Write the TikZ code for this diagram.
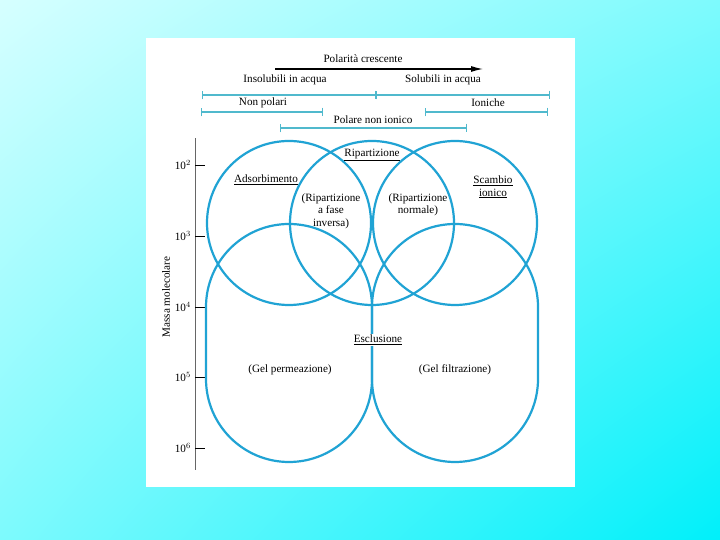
\documentclass[tikz,border=0pt]{standalone}
\usepackage{fontspec}
\setmainfont{Liberation Serif}
\usepackage{xcolor}
\usetikzlibrary{positioning,shadings,arrows.meta}

\definecolor{ringblue}{RGB}{32,163,212}
\definecolor{barteal}{RGB}{80,185,205}
\definecolor{bgpale}{RGB}{214,255,255}
\definecolor{bgmid}{RGB}{125,250,253}
\definecolor{bgdeep}{RGB}{0,240,250}

\tikzset{
	ring/.style={draw=ringblue,line width=2.2bp},
	scalebar/.style={draw=barteal,line width=1.4bp,|-|},
	lbl/.style={font=\fontsize{11.2}{12.5}\selectfont,align=center,inner sep=1pt},
	ticklbl/.style={font=\fontsize{11.2}{12.5}\selectfont,anchor=east,inner sep=1pt},
	axisline/.style={draw=black!60,line width=0.9bp}
}

\begin{document}
\begin{tikzpicture}[x=1bp,y=1bp]
	\useasboundingbox (0,0) rectangle (720,540);
	\shade[upper left=bgpale,upper right=bgmid,lower left=bgmid,lower right=bgdeep] (0,0) rectangle (720,540);
	\fill[white] (146,53) rectangle (575,502);

	% polarity scale
	\node[lbl] (pol) at (363,481) {Polarità crescente};
	\coordinate (pa) at (275,471);
	\coordinate (pb) at (483,471);
	\draw[-{Latex[length=12bp,width=6bp]},line width=1.2bp] (pa) -- (pb);
	\node[lbl] (insol) at (285,460) {Insolubili in acqua};
	\node[lbl] (sol) at (443,460) {Solubili in acqua};
	\coordinate (s1a) at (202,445);
	\coordinate (s1m) at (376,445);
	\coordinate (s1b) at (550,445);
	\draw[scalebar] (s1a) -- (s1m);
	\draw[scalebar] (s1m) -- (s1b);
	\node[lbl] (nonpol) at (263,437) {Non polari};
	\node[lbl] (ion) at (488,437) {Ioniche};
	\coordinate (s2a) at (201,428);
	\coordinate (s2b) at (323,428);
	\coordinate (s3a) at (425,428);
	\coordinate (s3b) at (548,428);
	\draw[scalebar] (s2a) -- (s2b);
	\draw[scalebar] (s3a) -- (s3b);
	\node[lbl] (polni) at (373,420) {Polare non ionico};
	\coordinate (s4a) at (280,412);
	\coordinate (s4b) at (467,412);
	\draw[scalebar] (s4a) -- (s4b);

	% mass axis
	\coordinate (ax0) at (195,70);
	\coordinate (ax1) at (195,402);
	\draw[axisline] (ax0) -- (ax1);
	\foreach \e/\y in {2/375,3/304,4/233,5/163,6/92}{
		\coordinate (k\e) at (195,\y);
		\draw[axisline,draw=black] (k\e) -- ++(10,0);
		\node[ticklbl] (t\e) at (192,\y) {10$^{\e}$};
	}
	\node[lbl,rotate=90] (ylab) at (166,243) {Massa molecolare};

	% the rings
	\node[ring,circle,minimum size=164bp,inner sep=0pt] (ads) at (289,317) {};
	\node[ring,circle,minimum size=164bp,inner sep=0pt] (rip) at (372,317) {};
	\node[ring,circle,minimum size=164bp,inner sep=0pt] (scam) at (455,317) {};
	\draw[ring] (206,233) arc[start angle=180,end angle=0,radius=83] -- (372,161)
		arc[start angle=0,end angle=-180,radius=83] -- cycle;
	\draw[ring] (372,233) arc[start angle=180,end angle=0,radius=83] -- (538,161)
		arc[start angle=0,end angle=-180,radius=83] -- cycle;

	% labels
	\node[lbl] (tads) at (266,360) {\underline{Adsorbimento}};
	\node[lbl] (trip) at (372,385) {\underline{Ripartizione}};
	\node[lbl] (tinv) at (331,329) {(Ripartizione\\a fase\\inversa)};
	\node[lbl] (tnorm) at (418,335) {(Ripartizione\\normale)};
	\node[lbl] (tscam) at (493,353) {\underline{Scambio}\\\underline{ionico}};
	\node[lbl,fill=white] (tescl) at (378,200) {\underline{Esclusione}};
	\node[lbl] (tperm) at (290,170) {(Gel permeazione)};
	\node[lbl] (tfilt) at (455,170) {(Gel filtrazione)};
\end{tikzpicture}
\end{document}
